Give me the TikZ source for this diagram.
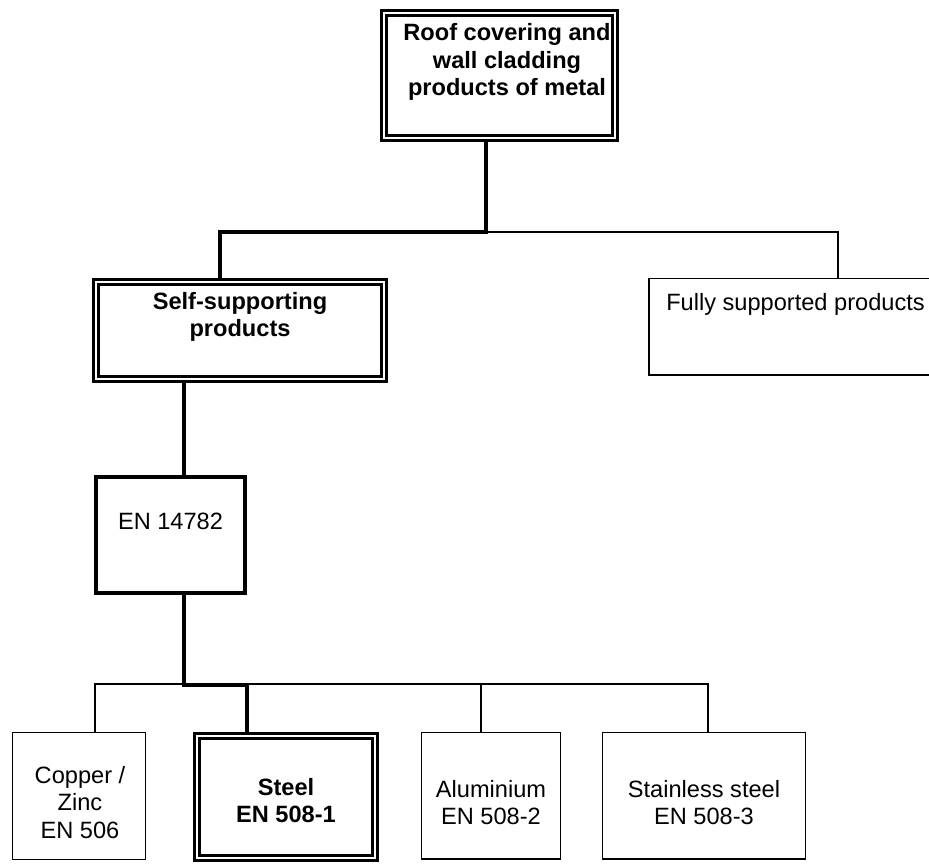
\documentclass[tikz,border=0pt]{standalone}
\usepackage{fontspec}
\setmainfont{Liberation Sans}
\usetikzlibrary{backgrounds}
\begin{document}
\begin{tikzpicture}[x=1pt,y=-1pt,
  dblbox/.style={draw, rectangle, line width=3pt, double=white, double distance=2.4pt, fill=white, inner sep=0pt},
  thinbox/.style={draw, rectangle, line width=1.6pt, fill=white, inner sep=0pt},
  heavybox/.style={draw, rectangle, line width=4.2pt, fill=white, inner sep=0pt},
  txt/.style={inner sep=0pt, anchor=north, align=center, text=black, font=\fontsize{23.6}{27.5}\selectfont},
  btxt/.style={txt, font=\bfseries\fontsize{23.6}{27.5}\selectfont},
  thickline/.style={line width=4.4pt},
  thinline/.style={line width=1.6pt}]
\useasboundingbox (0,0) rectangle (929,863);
\begin{scope}
\clip (0,0) rectangle (929,863);
% boxes
\node[dblbox, minimum width=231pt, minimum height=125pt] (top) at (499.25,75.25) {};
\node[dblbox, minimum width=287.6pt, minimum height=96.6pt] (ss) at (240,330.5) {};
\node[thinbox, minimum width=295.5pt, minimum height=96.5pt] (fs) at (797,326.75) {};
\node[heavybox, minimum width=149pt, minimum height=116pt] (en) at (170.5,535) {};
\node[thinbox, minimum width=133pt, minimum height=127pt] (cu) at (79,796) {};
\node[dblbox, minimum width=177.6pt, minimum height=121.6pt] (st) at (286,797) {};
\node[thinbox, minimum width=139pt, minimum height=126.5pt] (al) at (491,795.75) {};
\node[thinbox, minimum width=203pt, minimum height=126.5pt] (ss3) at (704,795.75) {};
% texts
\node[btxt] (ttop) at (507,20.5) {\rule{0pt}{20pt}Roof covering and\\wall cladding\\products of metal};
\node[btxt] (tss) at (240,289) {\rule{0pt}{20pt}Self-supporting\\products};
\node[txt] (tfs) at (795.5,290) {\rule{0pt}{20pt}Fully supported products};
\node[txt] (ten) at (170.5,509) {\rule{0pt}{20pt}EN 14782};
\node[txt] (tcu) at (80,763) {\rule{0pt}{20pt}Copper /\\Zinc\\EN 506};
\node[btxt] (tst) at (286,775) {\rule{0pt}{20pt}Steel\\EN 508-1};
\node[txt] (tal) at (491,777) {\rule{0pt}{20pt}Aluminium\\EN 508-2};
\node[txt] (tss3) at (704,777) {\rule{0pt}{20pt}Stainless steel\\EN 508-3};
\end{scope}
% junctions
\coordinate (jt) at (486,232);
\coordinate (jl) at (220,232);
\coordinate (jr) at (838,232);
\coordinate (ja) at (184,400);
\coordinate (jb) at (184,685);
\coordinate (jc) at (247,685);
\coordinate (b1) at (95,684);
\coordinate (b3) at (481,684);
\coordinate (b4) at (708,684);
\begin{scope}[on background layer]
\draw[thinline] (jt) -- (jr) -- (fs.north -| jr);
\draw[thinline] (cu.north -| b1) -- (b1) -- (b4) -- (ss3.north -| b4);
\draw[thinline] (b3) -- (al.north -| b3);
\draw[thickline] (top.south -| jt) -- (jt) -- (jl) -- (ss.north -| jl);
\draw[thickline] (ss.south -| ja) -- (en.north -| ja);
\draw[thickline] (en.south -| jb) -- (jb) -- (jc) -- (st.north -| jc);
\end{scope}
\end{tikzpicture}
\end{document}
